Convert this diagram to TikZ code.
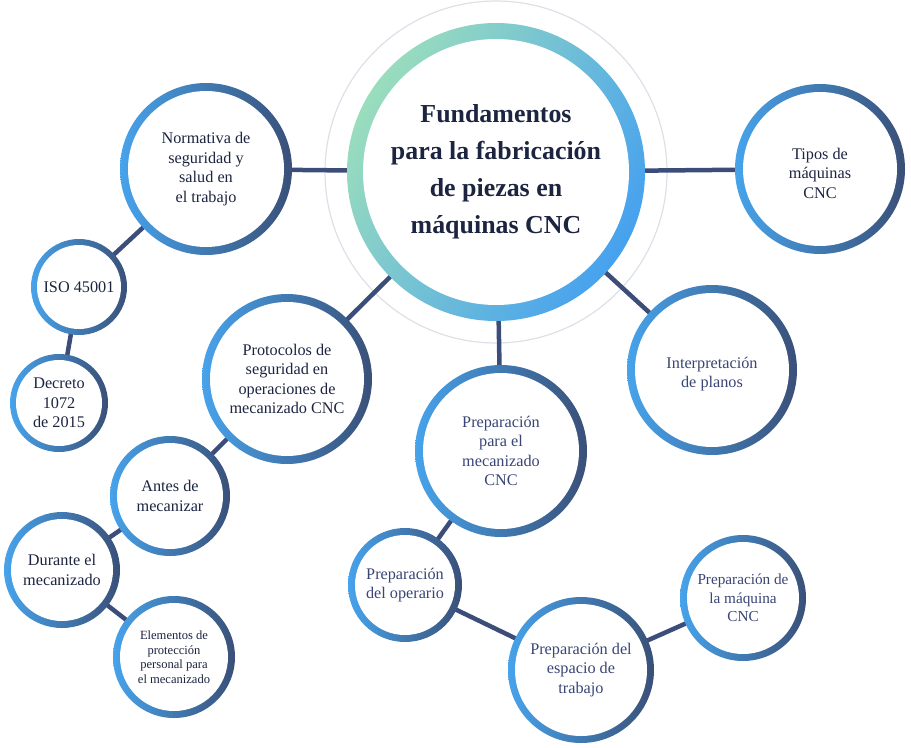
\documentclass[tikz,border=0pt]{standalone}
\usepackage{fontspec}
\setmainfont{Liberation Serif}
\usetikzlibrary{backgrounds}
\definecolor{mLight}{HTML}{47A3EB}
\definecolor{mDark}{HTML}{3A5078}
\definecolor{mMint}{HTML}{9ADDBD}
\definecolor{mSky}{HTML}{46A1EF}
\definecolor{mLine}{HTML}{3B4D78}
\definecolor{mHalo}{HTML}{DCE0E7}
\definecolor{mInk}{HTML}{1C2440}
\definecolor{mInkB}{HTML}{394575}

\def\ringw{7}
\tikzset{
  bubble/.style={circle, inner sep=0pt, minimum size=#1bp, align=center,
    left color=mLight, right color=mDark, text=mInk,
    font=\fontsize{16.3}{19.5}\selectfont,
    path picture={\fill[white] (path picture bounding box.center) circle ({#1/2-\ringw});}},
  ring/.code={\def\ringw{#1}},
  link/.style={draw=mLine, line width=4.5bp, shorten <=-3bp, shorten >=-3bp},
}

\begin{document}
\begin{tikzpicture}[x=1bp, y=-1bp]
  \useasboundingbox (0,0) rectangle (911,748);

  % centre
  \node[bubble=298, ring=16, top color=mMint, bottom color=mSky, shading angle=60,
    font=\bfseries\fontsize{26}{37}\selectfont] (core) at (496,172)
    {Fundamentos\\para la fabricación\\de piezas en\\máquinas CNC};

  % left branch
  \node[bubble=172, ring=8] (norma) at (206,169) {Normativa de\\seguridad y\\salud en\\el trabajo};
  \node[bubble=96, ring=6] (iso) at (79,287) {ISO 45001};
  \node[bubble=98, ring=6] (decreto) at (59,403) {Decreto\\1072\\de 2015};

  \node[bubble=170, ring=8] (proto) at (287,379) {Protocolos de\\seguridad en\\operaciones de\\mecanizado CNC};
  \node[bubble=120] (antes) at (170,496) {Antes de\\mecanizar};
  \node[bubble=116] (durante) at (62,570) {Durante el\\mecanizado};
  \node[bubble=122, font=\fontsize{12.6}{14.6}\selectfont] (epp) at (174,657)
    {Elementos de\\protección\\personal para\\el mecanizado};

  % right branch
  \node[bubble=170, ring=8] (tipos) at (820,169) {\mbox{}\\Tipos de\\máquinas\\CNC};
  \node[bubble=170, ring=8, text=mInkB] (planos) at (712,370) {\mbox{}\\Interpretación\\de planos};

  % lower branch
  \node[bubble=172, ring=8, text=mInkB] (prepara) at (501,451) {Preparación\\para el\\mecanizado\\CNC};
  \node[bubble=114, text=mInkB] (operario) at (405,585) {Preparación\\del operario};
  \node[bubble=146, text=mInkB] (espacio) at (581,670) {Preparación del\\espacio de\\trabajo};
  \node[bubble=126, text=mInkB, font=\fontsize{15.3}{18.5}\selectfont] (maquina) at (743,598)
    {Preparación de\\la máquina\\CNC};

  \begin{scope}[on background layer]
    \draw[mHalo, line width=1.2bp] (core.center) circle (171);
    \foreach \a/\b in {core/norma, core/tipos, core/proto, core/planos, core/prepara,
        norma/iso, iso/decreto, proto/antes, antes/durante, durante/epp,
        prepara/operario, operario/espacio, espacio/maquina}
      \draw[link] (\a) -- (\b);
  \end{scope}
\end{tikzpicture}
\end{document}
